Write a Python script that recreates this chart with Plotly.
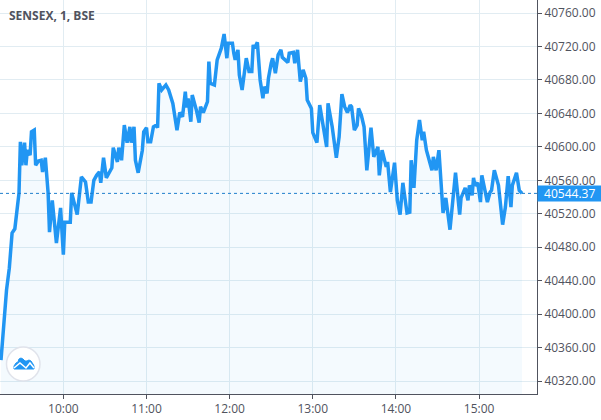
import pandas as pd
import plotly.graph_objects as go

# minutes after the 09:15 open, picked off the chart at each turning point
minutes = [0, 2, 4, 6, 8, 10, 12, 13, 14, 15, 17, 18, 19, 21, 22, 24, 25, 27, 29, 30, 32, 33, 34, 35, 37, 40, 43, 45, 46,
           50, 51, 55, 58, 61, 63, 65, 67, 69, 71, 72, 74, 76, 80, 81, 84, 85, 87, 89, 91, 93, 94, 96, 97, 99, 102, 103,
           105, 106, 108, 110, 112, 113, 114, 116, 119, 121, 124, 127, 129, 131, 133, 134, 135, 137, 138, 141, 143, 144,
           146, 149, 150, 151, 154, 156, 159, 161, 163, 164, 167, 168, 169, 171, 172, 174, 177, 179, 181, 182, 183, 185,
           186, 187, 189, 190, 192, 193, 195, 196, 198, 200, 202, 203, 207, 208, 211, 212, 214, 216, 218, 220, 221, 224,
           225, 228, 230, 233, 235, 236, 239, 242, 244, 246, 248, 250, 252, 253, 255, 257, 258, 260, 262, 264, 265, 267,
           269, 272, 273, 275, 278, 279, 281, 284, 286, 288, 290, 293, 295, 296, 298, 300, 302, 304, 305, 307, 311, 312,
           314, 316, 319, 321, 324, 328, 331, 332, 335, 337, 338, 340, 341, 342, 344, 346, 347, 351, 353, 354, 356, 359,
           362, 364, 366, 368, 369, 372, 374, 376]

prices = [40345, 40387, 40429, 40455, 40497, 40502, 40530, 40545, 40606, 40578, 40605, 40578, 40596, 40590, 40618, 40620,
          40578, 40583, 40584, 40570, 40587, 40570, 40545, 40498, 40536, 40485, 40527, 40471, 40510,
          40510, 40545, 40519, 40564, 40558, 40534, 40534, 40560, 40566, 40570, 40557, 40587, 40563, 40575, 40599, 40582,
          40599, 40584, 40626, 40605, 40624, 40605, 40624, 40584, 40569, 40596, 40618,
          40623, 40606, 40606, 40624, 40626, 40623, 40676, 40668, 40674, 40668, 40652, 40620, 40641, 40636, 40666, 40647,
          40658, 40630, 40662, 40644, 40629, 40648,
          40641, 40654, 40702, 40676, 40674, 40704, 40718, 40735, 40706, 40724, 40724, 40712, 40704, 40716, 40686, 40668,
          40706, 40690, 40690, 40722, 40718, 40725,
          40707, 40680, 40658, 40672, 40664, 40682, 40700, 40706, 40688, 40710, 40716, 40707, 40701, 40712, 40713, 40700,
          40716, 40678, 40692, 40682, 40656, 40646,
          40617, 40605, 40650, 40618, 40600, 40652, 40624, 40587, 40612, 40663, 40648, 40641, 40650, 40648, 40620, 40626,
          40646, 40638, 40624, 40572, 40593, 40623,
          40588, 40600, 40566, 40596, 40576, 40582, 40546, 40581, 40536, 40519, 40557, 40521, 40522, 40584, 40551, 40608,
          40632, 40608, 40618, 40596, 40572, 40588,
          40572, 40596, 40521, 40539, 40501, 40569, 40519, 40539, 40551, 40536, 40554, 40542, 40563, 40554, 40557, 40534,
          40566, 40534, 40546, 40548, 40572, 40554,
          40507, 40528, 40565, 40528, 40554, 40569, 40548, 40544.37]

y_ticks = [40320, 40360, 40400, 40440, 40480, 40520, 40560, 40600, 40640, 40680, 40720, 40760]
x_ticks = ['10:00', '11:00', '12:00', '13:00', '14:00', '15:00']
last_price = prices[-1]

day = '2020-01-20 '
opening = pd.Timestamp(day + '09:15')
times = [opening + pd.Timedelta(minutes=m) for m in minutes]

W, H = 601, 420
PLOT_W, PLOT_H = 537.5, 394
BLUE = '#2196f3'
TEXT = '#50535e'
GRID = '#e1ecf2'
FONT = 'Open Sans'


# shapes for the logo are placed in pixels, so turn those into paper units
def px(x):
    return x / PLOT_W


def py(y):
    return 1 - y / PLOT_H


def pth(points, close=True):
    d = 'M' + ' L'.join(f'{px(a):.5f},{py(b):.5f}' for a, b in points)
    return d + ' Z' if close else d


fig = go.Figure()

fig.add_trace(go.Scatter(x=times, y=prices, mode='lines', fill='tozeroy',
                         fillcolor='rgba(33,150,243,0.05)',
                         line=dict(color=BLUE, width=3.5), hoverinfo='skip'))

fig.update_layout(
    width=W, height=H, autosize=False,
    margin=dict(l=0, r=W - PLOT_W, t=0, b=H - PLOT_H, pad=0),
    paper_bgcolor='white', plot_bgcolor='white',
    showlegend=False,
    font=dict(family=FONT, size=12, color=TEXT),
)

fig.update_xaxes(type='date', range=[day + '09:14:17', day + '15:41:48'],
                 tickvals=[day + t for t in x_ticks], ticktext=x_ticks,
                 showgrid=True, gridcolor=GRID, gridwidth=1, zeroline=False,
                 showline=True, linecolor=TEXT, linewidth=1,
                 ticks='outside', ticklen=4, tickcolor=TEXT,
                 tickfont=dict(family=FONT, size=12, color=TEXT))

fig.update_yaxes(side='right', range=[40304.5, 40775.6],
                 tickvals=y_ticks, tickformat='.2f',
                 showgrid=True, gridcolor=GRID, gridwidth=1, zeroline=False,
                 showline=True, linecolor=TEXT, linewidth=1,
                 ticks='outside', ticklen=4, tickcolor=TEXT,
                 tickfont=dict(family=FONT, size=12, color=TEXT))

# last price line and tag
fig.add_shape(type='line', xref='paper', x0=0, x1=1, yref='y', y0=last_price, y1=last_price,
              line=dict(color='#1f7fcc', width=1, dash='dot'))
fig.add_annotation(xref='paper', x=1, yref='y', y=last_price, xanchor='left', yanchor='middle',
                   text=f'{last_price:.2f}', showarrow=False, bgcolor=BLUE,
                   font=dict(family=FONT, size=12, color='white'),
                   width=W - PLOT_W, height=15, align='center', borderpad=0)

fig.add_annotation(xref='paper', yref='paper', x=px(7), y=py(15), xanchor='left', yanchor='middle',
                   text='<b>SENSEX, 1, BSE</b>', showarrow=False,
                   font=dict(family=FONT, size=12, color=TEXT))

# round logo in the lower left corner
fig.add_shape(type='circle', xref='paper', yref='paper', x0=px(6.5), x1=px(40), y0=py(381), y1=py(347),
              fillcolor='white', line=dict(color='#e0e3eb', width=1.5))
fig.add_shape(type='path', xref='paper', yref='paper', fillcolor=BLUE, line=dict(color=BLUE, width=1),
              path=pth([(14, 369), (14, 366), (16, 363), (18, 362), (19, 359), (21, 358), (23, 359), (25, 361),
                        (27, 361), (29, 360), (31, 361), (33, 364), (34, 366), (34, 369)]))
fig.add_shape(type='path', xref='paper', yref='paper', line=dict(color='white', width=1.5),
              path=pth([(14, 368), (20, 363), (26, 368), (30, 363), (34, 368)], close=False))

# the page body has a default margin that would push the chart off the window
fig.write_html('out.html', post_script="document.body.style.margin='0';",
               config=dict(displayModeBar=False))
